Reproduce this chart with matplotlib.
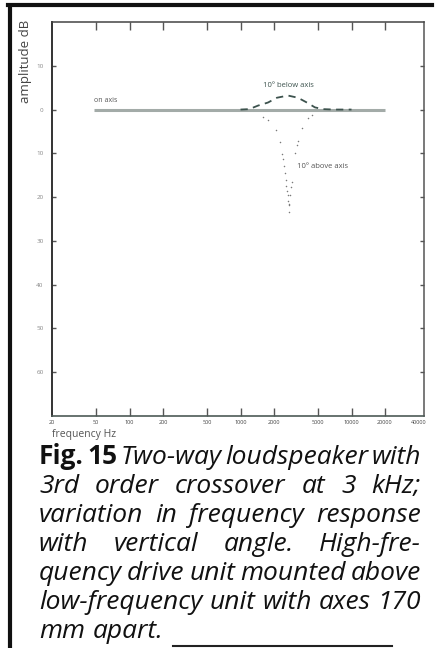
import numpy as np
import matplotlib.pyplot as plt
from matplotlib.lines import Line2D

W, H = 438, 648

# response curves, two-way speaker with 3rd order crossover at 3 kHz
on_axis_f = [48, 20000]
on_axis_db = [0, 0]

below_f = [1000, 1200, 1436, 1766, 2128, 2674, 3288, 3966, 4678, 5500, 7000, 10000]
below_db = [0, 0.1, 0.9, 1.6, 2.7, 3.2, 2.7, 1.6, 0.5, 0.1, 0, 0]

above_f = [1602, 1778, 2070, 2266, 2376, 2426, 2476, 2512, 2548, 2582, 2618, 2654,
           2692, 2730, 2740, 2748, 2786, 2846, 2886, 3092, 3204, 3312, 3598, 4074, 4372]
above_db = [-1.8, -2.5, -4.6, -7.5, -10.2, -11.4, -12.8, -14.4, -16.0, -17.4, -18.5, -19.6,
            -20.8, -21.9, -23.4, -21.5, -19.6, -17.6, -16.6, -9.9, -8.2, -7.1, -4.3, -2.0, -1.2]

x_ticks = [20, 50, 100, 200, 500, 1000, 2000, 5000, 10000, 20000, 40000]
x_labels = ['20', '50', '100', '200', '500', '1000', '2000', '5000', '10000', '20000', '40000']
y_ticks = [10, 0, -10, -20, -30, -40, -50, -60]
y_labels = ['10', '0', '10', '20', '30', '40', '50', '60']

caption = [
    'Fig. 15 Two-way loudspeaker with',
    '3rd order crossover at 3 kHz;',
    'variation in frequency response',
    'with vertical angle. High-fre-',
    'quency drive unit mounted above',
    'low-frequency unit with axes 170',
    'mm apart.',
]

plt.rcParams['font.family'] = ['Open Sans', 'DejaVu Sans']

fig = plt.figure(figsize=(W / 100, H / 100), dpi=100)
fig.patch.set_facecolor('white')
ax = fig.add_axes([52 / W, 1 - 416 / H, 372 / W, 394 / H])

ax.plot(on_axis_f, on_axis_db, color='#a3aba8', lw=2.2, solid_capstyle='butt')
ax.plot(below_f, below_db, color='#3c524d', lw=1.3, dashes=(4, 3))
ax.plot(above_f, above_db, ls='none', marker='o', ms=1.1, color='#7a7a7a', mec='none')

ax.text(48, 1.2, 'on axis', fontsize=5, color='#555', ha='left', va='bottom')
ax.text(2700, 4.6, '10° below axis', fontsize=5.5, color='#3c524d', ha='center', va='bottom')
ax.text(3220, -13, '10° above axis', fontsize=5.5, color='#555', ha='left', va='center')

ax.set_xscale('log')
ax.set_xlim(20, 45000)
ax.set_ylim(-70, 20)
ax.set_xticks(x_ticks)
ax.set_xticklabels(x_labels)
ax.minorticks_off()
ax.set_yticks(y_ticks)
ax.set_yticklabels(y_labels)
ax.tick_params(axis='x', direction='in', top=True, length=6, width=1, color='#555',
               labelsize=4, labelcolor='#444', pad=3)
ax.tick_params(axis='y', direction='in', right=True, length=3, width=1, color='#555',
               labelsize=4.5, labelcolor='#888', pad=6)
for i in (0, len(x_ticks) - 1):
    t = ax.xaxis.get_major_ticks()[i]
    t.tick1line.set_visible(False)
    t.tick2line.set_visible(False)
for side, c, w in [('left', '#333', 1.4), ('bottom', '#4d5a56', 1.2),
                   ('top', '#444', 1.1), ('right', '#555', 1.1)]:
    ax.spines[side].set_color(c)
    ax.spines[side].set_linewidth(w)

fig.text(26 / W, 1 - 61 / H, 'amplitude dB', rotation=90, fontsize=9.5,
         color='#444', ha='center', va='center')
fig.text(52 / W, 1 - 435 / H, 'frequency Hz', fontsize=7.5, color='#555',
         ha='left', va='center')

# page rules
fig.add_artist(Line2D([8 / W, 432 / W], [1 - 5 / H, 1 - 5 / H], color='#111', lw=3))
fig.add_artist(Line2D([10 / W, 10 / W], [1 - 6 / H, 0], color='#111', lw=3))
fig.add_artist(Line2D([173 / W, 392 / W], [1 - 646 / H, 1 - 646 / H], color='#222', lw=1.5))

# justified caption; size chosen so the 6th line fills the column with plain spaces
fig.canvas.draw()
renderer = fig.canvas.get_renderer()
left, right = 39, 421
probe = fig.text(0, 0, caption[5], fontsize=10, fontstyle='italic')
cap_size = 10 * (right - left) / probe.get_window_extent(renderer).width
probe.remove()

for i, line in enumerate(caption):
    y = 1 - (464 + i * 29) / H
    objs = []
    for w in line.split():
        bold = w in ('Fig.', '15')
        t = fig.text(0, y, w, fontsize=cap_size, color='#111', va='baseline', ha='left',
                     fontweight='bold' if bold else 'normal',
                     fontstyle='normal' if bold else 'italic')
        objs.append(t)
    widths = [t.get_window_extent(renderer).width for t in objs]
    if i == len(caption) - 1:
        gap = cap_size * 0.4
    else:
        gap = (right - left - sum(widths)) / (len(objs) - 1)
    x = left
    for t, wd in zip(objs, widths):
        t.set_x(x / W)
        x += wd + gap

fig.savefig('out.png', dpi=100)
